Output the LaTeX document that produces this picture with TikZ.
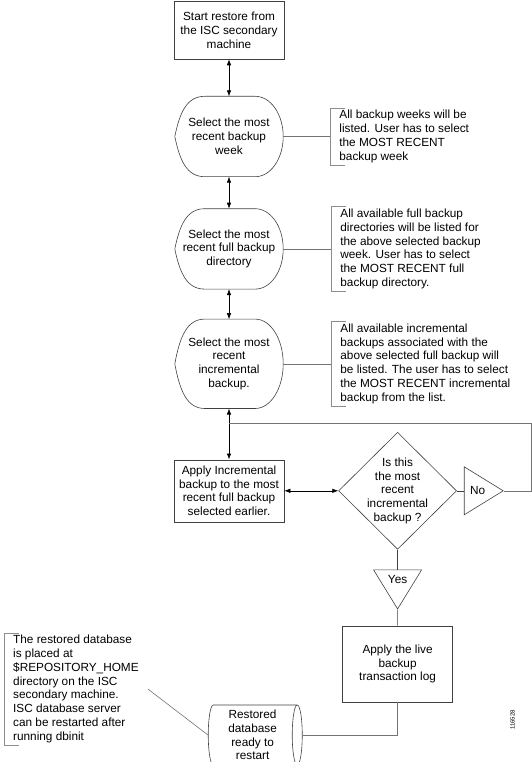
\documentclass[tikz,border=0pt]{standalone}
\usepackage{fontspec}
\setmainfont{Liberation Sans}
\usetikzlibrary{positioning, shapes.geometric, arrows.meta, calc}

\begin{document}
\begin{tikzpicture}[
    node distance=1cm,
    font=\fontsize{11.8}{13.8}\selectfont,
    >={Latex[length=6pt,width=4.5pt]},
    outline/.style={draw=black!75, line width=0.6pt},
    stepbox/.style={rectangle, outline, align=center, minimum width=110pt, inner xsep=3pt},
    selectbox/.style={rectangle, align=center, minimum width=108pt, minimum height=80pt, inner sep=0pt},
    decision/.style={diamond, outline, align=center, minimum width=118pt, minimum height=117pt, inner sep=-4pt},
    answer/.style={isosceles triangle, isosceles triangle stretches, outline, inner sep=0pt, minimum width=48pt, minimum height=39pt},
    dbstore/.style={cylinder, outline, align=center, minimum width=60pt, minimum height=94pt, aspect=0.2, inner sep=0pt},
    note/.style={rectangle, align=left, inner xsep=9pt, inner ysep=2pt},
    bracket/.style={draw=black!45, line width=0.6pt},
    link/.style={draw=black!55, line width=0.6pt},
]

% Main column
\node [stepbox, minimum height=58pt] (start) {Start restore from\\the ISC secondary\\machine};
\useasboundingbox ([shift={(-229pt,30pt)}]start.center) rectangle ++(532pt,-762pt);
\node [selectbox, below=37pt of start] (week) {Select the most\\recent backup\\week};
\node [selectbox, below=32pt of week] (dir) {Select the most\\recent full backup\\directory};
\node [selectbox, minimum height=89pt, below=30pt of dir] (inc) {Select the most\\recent\\incremental\\backup.};
\node [stepbox, minimum height=62pt, below=51pt of inc] (apply) {Apply Incremental\\backup to the most\\recent full backup\\selected earlier.};
\node [decision, right=54pt of apply] (ismost) {Is this\\the most\\recent\\incremental\\backup ?};
\node [answer, right=7pt of ismost] (no) {No};
\node [answer, shape border rotate=270, below=20pt of ismost] (yes) {Yes};
\node [stepbox, minimum height=76pt, below=16pt of yes] (live) {Apply the live\\backup\\transaction log};
\node [dbstore] (store) at ([xshift=-145pt, yshift=-71pt]live.center) {Restored\\database\\ready to\\restart};

% Notes
\node [note, right=47pt of week] (weeknote) {All backup weeks will be\\listed. User has to select\\the MOST RECENT\\backup week};
\node [note, right=48pt of dir] (dirnote) {All available full backup\\directories will be listed for\\the above selected backup\\week. User has to select\\the MOST RECENT full\\backup directory.};
\node [note, right=48pt of inc] (incnote) {All available incremental\\backups associated with the\\above selected full backup will\\be listed. The user has to select\\the MOST RECENT incremental\\backup from the list.};
\node [note, anchor=west] (dbnote) at ([xshift=-225pt, yshift=-659pt]start.center) {The restored database\\is placed at\\\$REPOSITORY\_HOME\\directory on the ISC\\secondary machine.\\ISC database server\\can be restarted after\\running dbinit};
\node [rotate=90, font=\fontsize{6}{7}\selectfont] (figid) at ([xshift=115pt, yshift=-56pt]live.center) {116528};

% Select outlines
\foreach \n in {week, dir, inc}
    \draw [outline] (\n.west)
        .. controls ($(\n.west)!.6!(\n.north west)+(5pt,0)$) and ([xshift=12pt]\n.north west) .. ([xshift=30pt]\n.north west)
        -- ([xshift=-28pt]\n.north east)
        .. controls ([xshift=-12.5pt]\n.north east) and ($(\n.east)!.552!(\n.north east)$) .. (\n.east)
        .. controls ($(\n.east)!.552!(\n.south east)$) and ([xshift=-12.5pt]\n.south east) .. ([xshift=-28pt]\n.south east)
        -- ([xshift=30pt]\n.south west)
        .. controls ([xshift=12pt]\n.south west) and ($(\n.west)!.6!(\n.south west)+(5pt,0)$) .. (\n.west);

% Brackets
\foreach \n in {weeknote, dirnote, incnote, dbnote}
    \draw [bracket] ([xshift=15pt]\n.north west) -- (\n.north west) -- (\n.south west) -- ([xshift=15pt]\n.south west);

% Lines
\coordinate (loopin) at ($(inc.south)!0.29!(apply.north)$);
\path [<->, line width=0.6pt] (start) edge (week);
\path [<->, line width=0.6pt] (week) edge (dir);
\path [<->, line width=0.6pt] (dir) edge (inc);
\path [<->, line width=0.6pt] (inc) edge (apply);
\path [<->, line width=0.6pt] (apply) edge (ismost);
\draw [outline] (ismost.east) -- (no.west);
\draw [outline] (ismost.south) -- (yes.lower side);
\draw [outline] (yes.apex) -- (live.north);
\draw [link] (no.apex) -- ++(27pt,0) |- (loopin);
\draw [link] (live.south) |- (store.east);
\draw [link] (week.east) -- (weeknote.west);
\draw [link] (dir.east) -- (dirnote.west);
\draw [link] (inc.east) -- (incnote.west);
\draw [link] (dbnote.east) -- (store.west);

\end{tikzpicture}
\end{document}
